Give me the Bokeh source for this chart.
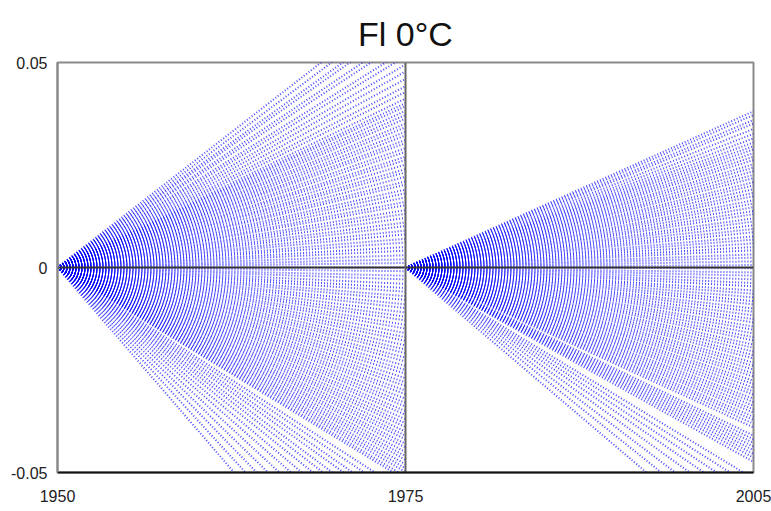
from bokeh.plotting import figure
from bokeh.models import Range1d, FixedTicker
from bokeh.embed import file_html
from bokeh.resources import INLINE

# ---- data ----
TITLE = "Fl 0°C"
PERIOD_1 = [1950, 1975]
PERIOD_2 = [1975, 2005]
X_TICK_LABELS = ["1950", "1975", "2005"]
Y_TICKS = [-0.05, 0, 0.05]
Y_TICK_LABELS = ["-0.05", "0", "0.05"]

# trend-line values reached at the end of each period (start value is 0)
END_1975 = [0.066, 0.0635, 0.061, 0.0595, 0.057, 0.0555, 0.053, 0.0515, 0.0495, 0.0478,
            0.046, 0.0442, 0.0428,
            0.0412, 0.0401, 0.0393, 0.0382, 0.0372, 0.0363, 0.0351, 0.0342, 0.0331, 0.0322,
            0.0311, 0.0303, 0.0291, 0.0282, 0.0270, 0.0262, 0.0251, 0.0240, 0.0232, 0.0221,
            0.0210, 0.0202, 0.0190, 0.0181, 0.0171, 0.0160, 0.0152, 0.0140, 0.0131, 0.0121,
            0.0110, 0.0101, 0.0090, 0.0081, 0.0070, 0.0061, 0.0050, 0.0041, 0.0030, 0.0020,
            0.0011, 0.0000, -0.0009, -0.0020, -0.0029, -0.0040, -0.0050, -0.0059, -0.0070,
            -0.0079, -0.0090, -0.0099, -0.0110, -0.0120, -0.0129, -0.0140, -0.0149, -0.0160,
            -0.0170, -0.0179, -0.0190, -0.0200, -0.0209, -0.0220, -0.0229, -0.0240, -0.0250,
            -0.0259, -0.0270, -0.0280, -0.0289, -0.0300, -0.0309, -0.0320, -0.0330, -0.0339,
            -0.0350, -0.0359, -0.0370, -0.0380, -0.0389, -0.0400, -0.0410, -0.0419, -0.0430,
            -0.0439, -0.0450, -0.0460, -0.0469, -0.0480, -0.0490, -0.0499, -0.0510, -0.0518,
            -0.0548, -0.0567, -0.0589, -0.0608, -0.0633, -0.0655, -0.0681, -0.0712, -0.0745,
            -0.0784, -0.0826, -0.0873, -0.0925, -0.0985]
END_2005 = [0.0381, 0.0372, 0.0360, 0.0351, 0.0338, 0.0326, 0.0315, 0.0305,
            0.0296, 0.0288, 0.0279, 0.0270, 0.0262, 0.0252, 0.0244, 0.0235, 0.0226, 0.0218,
            0.0208, 0.0200, 0.0191, 0.0182, 0.0174, 0.0164, 0.0156, 0.0147, 0.0138, 0.0130,
            0.0120, 0.0112, 0.0103, 0.0094, 0.0086, 0.0076, 0.0068, 0.0059, 0.0050, 0.0042,
            0.0032, 0.0024, 0.0015, 0.0006, -0.0002, -0.0012, -0.0020, -0.0029, -0.0038,
            -0.0046, -0.0056, -0.0064, -0.0073, -0.0082, -0.0090, -0.0100, -0.0108, -0.0117,
            -0.0126, -0.0134, -0.0144, -0.0152, -0.0161, -0.0170, -0.0178, -0.0188, -0.0196,
            -0.0205, -0.0214, -0.0222, -0.0232, -0.0240, -0.0249, -0.0258, -0.0266, -0.0276,
            -0.0284, -0.0293, -0.0302, -0.0310, -0.0320, -0.0328, -0.0337, -0.0346, -0.0354,
            -0.0364, -0.0372, -0.0381, -0.0390,
            -0.0410, -0.0419, -0.0428, -0.0437, -0.0446, -0.0455, -0.0464, -0.0474,
            -0.0515, -0.0536, -0.0559, -0.0583, -0.0612, -0.0645, -0.0680, -0.0722]

FONT = "Liberation Sans"

# each period fills one half of the frame: two x scales sharing the frame
len1 = PERIOD_1[1] - PERIOD_1[0]
len2 = PERIOD_2[1] - PERIOD_2[0]
x_early = Range1d(PERIOD_1[0], PERIOD_1[1] + len1)      # left half = period 1
x_late = Range1d(PERIOD_2[0] - len2, PERIOD_2[1])       # right half = period 2

p = figure(width=771, height=511, output_backend="svg", toolbar_location=None,
           title=TITLE, x_range=x_early, y_range=Range1d(Y_TICKS[0], Y_TICKS[-1]),
           min_border_left=57, min_border_right=18, min_border_top=62, min_border_bottom=39)
p.extra_x_ranges = {"late": x_late}
p.background_fill_color = "white"
p.border_fill_color = "white"
p.grid.visible = False
p.outline_line_color = "#8a8a8a"
p.outline_line_width = 2

p.title.align = "center"
p.title.text_font = FONT
p.title.text_font_size = "34px"
p.title.text_font_style = "normal"
p.title.text_color = "#111111"
p.title.standoff = 19

# fans of trend lines
xs1 = [PERIOD_1 for _ in END_1975]
ys1 = [[0, v] for v in END_1975]
xs2 = [PERIOD_2 for _ in END_2005]
ys2 = [[0, v] for v in END_2005]
p.multi_line(xs1, ys1, line_color="#0000ff", line_width=2, line_alpha=0.7, line_dash="1 2")
p.multi_line(xs2, ys2, line_color="#0000ff", line_width=2, line_alpha=0.7, line_dash="1 2",
             x_range_name="late")

# zero line and period divider
p.line(PERIOD_1, [0, 0], line_color="#333333", line_width=2)
p.line(PERIOD_2, [0, 0], line_color="#333333", line_width=2, x_range_name="late")
p.line([PERIOD_1[1], PERIOD_1[1]], [Y_TICKS[0], Y_TICKS[-1]], line_color="#666666", line_width=2)

# axes
x_tick_pos = [PERIOD_1[0], PERIOD_1[1], PERIOD_1[1] + len1]   # positions on the early scale
p.xaxis.ticker = FixedTicker(ticks=x_tick_pos)
p.xaxis.major_label_overrides = {t: l for t, l in zip(x_tick_pos, X_TICK_LABELS)}
p.yaxis.ticker = FixedTicker(ticks=Y_TICKS)
p.yaxis.major_label_overrides = {t: l for t, l in zip(Y_TICKS, Y_TICK_LABELS)}
for ax in (p.xaxis, p.yaxis):
    ax.major_tick_line_color = None
    ax.minor_tick_line_color = None
    ax.major_label_text_font = FONT
    ax.major_label_text_font_size = "16px"
    ax.major_label_text_color = "#222222"
p.xaxis.axis_line_color = "#111111"
p.xaxis.axis_line_width = 2
p.yaxis.axis_line_color = "#8a8a8a"
p.yaxis.axis_line_width = 2
p.xaxis.major_label_standoff = 11
p.yaxis.major_label_standoff = 4

open("out.html", "w").write(file_html(p, INLINE))
